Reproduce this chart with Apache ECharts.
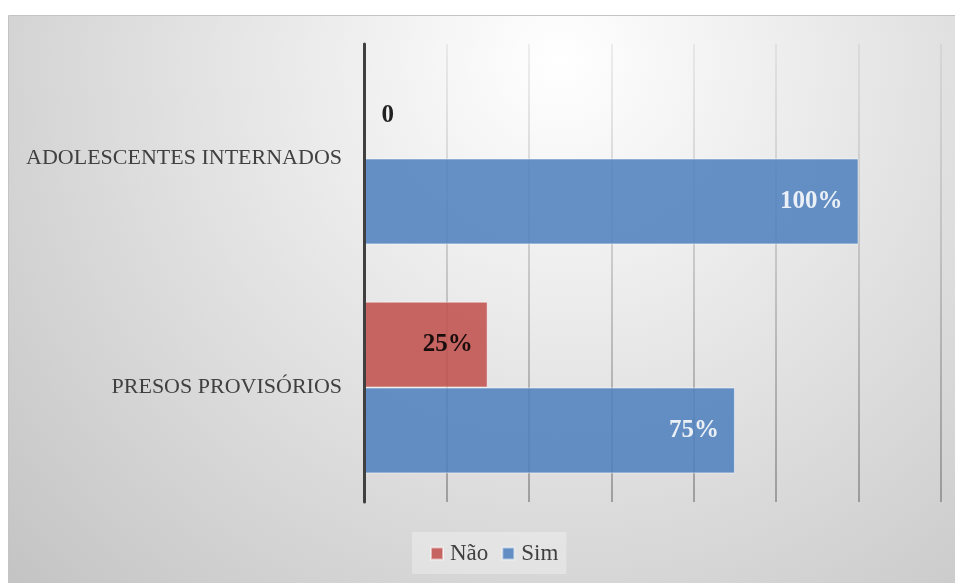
<!DOCTYPE html>
<html>
<head>
<meta charset="utf-8">
<title>Presos provisórios x Adolescentes internados</title>
<script src="https://cdn.jsdelivr.net/npm/echarts@6/dist/echarts.min.js"></script>
<style>
  html, body { margin: 0; padding: 0; background: #fff; }
  #chart { width: 955px; height: 583px; }
</style>
</head>
<body>
<div id="chart"></div>
<script>
// categories go bottom -> top on a category y axis
const categories = ['PRESOS PROVISÓRIOS', 'ADOLESCENTES INTERNADOS']
const naoValues = [25, 0]
const simValues = [75, 100]
const legendNames = ['Não', 'Sim']

const serif = '"Liberation Serif", "DejaVu Serif", serif'

const chart = echarts.init(document.getElementById('chart'), null, { renderer: 'canvas' })

function labelData(values) {
    // a zero bar has no inside, so its label sits just right of the axis
    return values.map(v => v === 0
        ? { value: v, label: { position: 'right', distance: 17 } }
        : v)
}

const option = {
    backgroundColor: '#fff',
    animation: false,
    graphic: [{
        type: 'rect',
        z: -100,
        silent: true,
        shape: { x: 8.5, y: 15.5, width: 960, height: 580 },
        style: {
            fill: {
                type: 'radial', x: 560, y: 60, r: 780, global: true,
                colorStops: [
                    { offset: 0, color: '#ffffff' },
                    { offset: 1, color: '#c2c2c2' }
                ]
            },
            stroke: '#c4c4c4',
            lineWidth: 1
        }
    }],
    grid: { left: 364, right: 14, top: 44, bottom: 81 },
    legend: {
        data: legendNames,
        left: 412,
        top: 532,
        padding: [10, 8, 9, 18],
        itemWidth: 12,
        itemHeight: 12,
        itemGap: 13,
        icon: 'rect',
        backgroundColor: 'rgba(255,255,255,0.3)',
        textStyle: { fontFamily: serif, fontSize: 23, color: '#404040', padding: [0, 0, 0, 2] }
    },
    xAxis: {
        type: 'value',
        min: 0,
        max: 700 / 6,
        interval: 100 / 6,
        axisLine: { show: false },
        axisTick: { show: false },
        axisLabel: { show: false },
        splitLine: {
            lineStyle: {
                width: 1.5,
                color: {
                    type: 'linear', x: 0, y: 44, x2: 0, y2: 502, global: true,
                    colorStops: [
                        { offset: 0, color: 'rgba(150,150,150,0.2)' },
                        { offset: 1, color: 'rgba(110,110,110,0.75)' }
                    ]
                }
            }
        }
    },
    yAxis: {
        type: 'category',
        data: categories,
        z: 5,
        axisLine: { lineStyle: { color: '#404040', width: 3 } },
        axisTick: { show: false },
        axisLabel: { margin: 22, fontFamily: serif, fontSize: 22, color: '#404040' }
    },
    series: [
        {
            name: 'Não',
            type: 'bar',
            data: labelData(naoValues),
            barCategoryGap: '25%',
            barGap: '0%',
            itemStyle: { color: '#c0504d', opacity: 0.87, borderColor: 'rgba(255,255,255,0.6)', borderWidth: 1 },
            label: {
                show: true, position: 'insideRight', distance: 15,
                fontFamily: serif, fontSize: 25, fontWeight: 'bold', color: '#000',
                formatter: p => p.value === 0 ? '0' : p.value + '%'
            }
        },
        {
            name: 'Sim',
            type: 'bar',
            data: labelData(simValues),
            barCategoryGap: '25%',
            barGap: '0%',
            itemStyle: { color: '#4f81bd', opacity: 0.87, borderColor: 'rgba(255,255,255,0.6)', borderWidth: 1 },
            label: {
                show: true, position: 'insideRight', distance: 16,
                fontFamily: serif, fontSize: 25, fontWeight: 'bold', color: '#fff',
                formatter: p => p.value === 0 ? '0' : p.value + '%'
            }
        }
    ]
}

chart.setOption(option)
</script>
</body>
</html>
